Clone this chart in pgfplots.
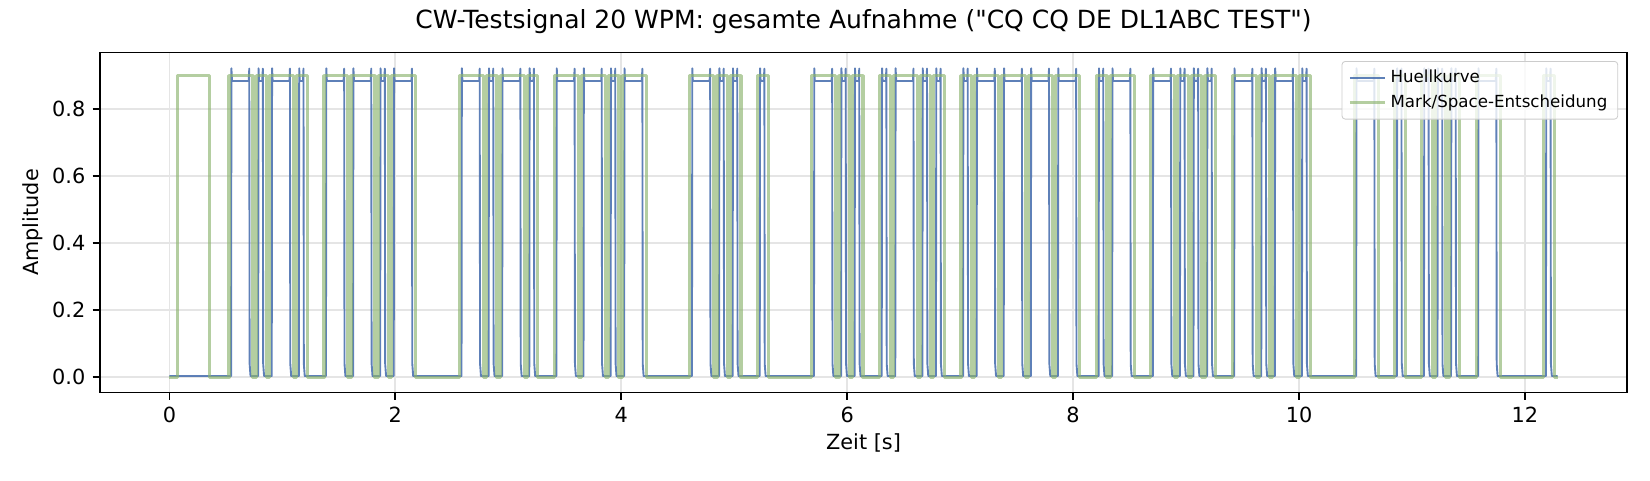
\documentclass[border=0pt]{standalone}
\usepackage{fontspec}
\setmainfont{DejaVu Sans}[Ligatures=TeXOff]
\usepackage{pgfplots}
\usepackage{pgfplotstable}
\pgfplotsset{compat=1.18}

\definecolor{envblue}{HTML}{4C72B0}
\definecolor{decgreen}{RGB}{140,180,110}

\begin{document}

% Huellkurve: per Morse-Element Anstieg, Spitze, Plateau, Spitze, Abfall
\pgfplotstableread[row sep=\\]{
x y\\
0 0.003\\
0.546 0.003\\ 0.549 0.922\\ 0.554 0.884\\ 0.702 0.884\\ 0.707 0.921\\ 0.710 0.04\\ 0.718 0.003\\
0.786 0.003\\ 0.789 0.922\\ 0.794 0.884\\ 0.822 0.884\\ 0.827 0.921\\ 0.830 0.04\\ 0.838 0.003\\
0.906 0.003\\ 0.909 0.922\\ 0.914 0.884\\ 1.062 0.884\\ 1.067 0.921\\ 1.070 0.04\\ 1.078 0.003\\
1.146 0.003\\ 1.149 0.922\\ 1.154 0.884\\ 1.182 0.884\\ 1.187 0.921\\ 1.190 0.04\\ 1.198 0.003\\
1.386 0.003\\ 1.389 0.922\\ 1.394 0.884\\ 1.542 0.884\\ 1.547 0.921\\ 1.550 0.04\\ 1.558 0.003\\
1.626 0.003\\ 1.629 0.922\\ 1.634 0.884\\ 1.782 0.884\\ 1.787 0.921\\ 1.790 0.04\\ 1.798 0.003\\
1.866 0.003\\ 1.869 0.922\\ 1.874 0.884\\ 1.902 0.884\\ 1.907 0.921\\ 1.910 0.04\\ 1.918 0.003\\
1.986 0.003\\ 1.989 0.922\\ 1.994 0.884\\ 2.142 0.884\\ 2.147 0.921\\ 2.150 0.04\\ 2.158 0.003\\
2.586 0.003\\ 2.589 0.922\\ 2.594 0.884\\ 2.742 0.884\\ 2.747 0.921\\ 2.750 0.04\\ 2.758 0.003\\
2.826 0.003\\ 2.829 0.922\\ 2.834 0.884\\ 2.862 0.884\\ 2.867 0.921\\ 2.870 0.04\\ 2.878 0.003\\
2.946 0.003\\ 2.949 0.922\\ 2.954 0.884\\ 3.102 0.884\\ 3.107 0.921\\ 3.110 0.04\\ 3.118 0.003\\
3.186 0.003\\ 3.189 0.922\\ 3.194 0.884\\ 3.222 0.884\\ 3.227 0.921\\ 3.230 0.04\\ 3.238 0.003\\
3.426 0.003\\ 3.429 0.922\\ 3.434 0.884\\ 3.582 0.884\\ 3.587 0.921\\ 3.590 0.04\\ 3.598 0.003\\
3.666 0.003\\ 3.669 0.922\\ 3.674 0.884\\ 3.822 0.884\\ 3.827 0.921\\ 3.830 0.04\\ 3.838 0.003\\
3.906 0.003\\ 3.909 0.922\\ 3.914 0.884\\ 3.942 0.884\\ 3.947 0.921\\ 3.950 0.04\\ 3.958 0.003\\
4.026 0.003\\ 4.029 0.922\\ 4.034 0.884\\ 4.182 0.884\\ 4.187 0.921\\ 4.190 0.04\\ 4.198 0.003\\
4.626 0.003\\ 4.629 0.922\\ 4.634 0.884\\ 4.782 0.884\\ 4.787 0.921\\ 4.790 0.04\\ 4.798 0.003\\
4.866 0.003\\ 4.869 0.922\\ 4.874 0.884\\ 4.902 0.884\\ 4.907 0.921\\ 4.910 0.04\\ 4.918 0.003\\
4.986 0.003\\ 4.989 0.922\\ 4.994 0.884\\ 5.022 0.884\\ 5.027 0.921\\ 5.030 0.04\\ 5.038 0.003\\
5.226 0.003\\ 5.229 0.922\\ 5.234 0.884\\ 5.262 0.884\\ 5.267 0.921\\ 5.270 0.04\\ 5.278 0.003\\
5.706 0.003\\ 5.709 0.922\\ 5.714 0.884\\ 5.862 0.884\\ 5.867 0.921\\ 5.870 0.04\\ 5.878 0.003\\
5.946 0.003\\ 5.949 0.922\\ 5.954 0.884\\ 5.982 0.884\\ 5.987 0.921\\ 5.990 0.04\\ 5.998 0.003\\
6.066 0.003\\ 6.069 0.922\\ 6.074 0.884\\ 6.102 0.884\\ 6.107 0.921\\ 6.110 0.04\\ 6.118 0.003\\
6.306 0.003\\ 6.309 0.922\\ 6.314 0.884\\ 6.342 0.884\\ 6.347 0.921\\ 6.350 0.04\\ 6.358 0.003\\
6.426 0.003\\ 6.429 0.922\\ 6.434 0.884\\ 6.582 0.884\\ 6.587 0.921\\ 6.590 0.04\\ 6.598 0.003\\
6.666 0.003\\ 6.669 0.922\\ 6.674 0.884\\ 6.702 0.884\\ 6.707 0.921\\ 6.710 0.04\\ 6.718 0.003\\
6.786 0.003\\ 6.789 0.922\\ 6.794 0.884\\ 6.822 0.884\\ 6.827 0.921\\ 6.830 0.04\\ 6.838 0.003\\
7.026 0.003\\ 7.029 0.922\\ 7.034 0.884\\ 7.062 0.884\\ 7.067 0.921\\ 7.070 0.04\\ 7.078 0.003\\
7.146 0.003\\ 7.149 0.922\\ 7.154 0.884\\ 7.302 0.884\\ 7.307 0.921\\ 7.310 0.04\\ 7.318 0.003\\
7.386 0.003\\ 7.389 0.922\\ 7.394 0.884\\ 7.542 0.884\\ 7.547 0.921\\ 7.550 0.04\\ 7.558 0.003\\
7.626 0.003\\ 7.629 0.922\\ 7.634 0.884\\ 7.782 0.884\\ 7.787 0.921\\ 7.790 0.04\\ 7.798 0.003\\
7.866 0.003\\ 7.869 0.922\\ 7.874 0.884\\ 8.022 0.884\\ 8.027 0.921\\ 8.030 0.04\\ 8.038 0.003\\
8.226 0.003\\ 8.229 0.922\\ 8.234 0.884\\ 8.262 0.884\\ 8.267 0.921\\ 8.270 0.04\\ 8.278 0.003\\
8.346 0.003\\ 8.349 0.922\\ 8.354 0.884\\ 8.502 0.884\\ 8.507 0.921\\ 8.510 0.04\\ 8.518 0.003\\
8.706 0.003\\ 8.709 0.922\\ 8.714 0.884\\ 8.862 0.884\\ 8.867 0.921\\ 8.870 0.04\\ 8.878 0.003\\
8.946 0.003\\ 8.949 0.922\\ 8.954 0.884\\ 8.982 0.884\\ 8.987 0.921\\ 8.990 0.04\\ 8.998 0.003\\
9.066 0.003\\ 9.069 0.922\\ 9.074 0.884\\ 9.102 0.884\\ 9.107 0.921\\ 9.110 0.04\\ 9.118 0.003\\
9.186 0.003\\ 9.189 0.922\\ 9.194 0.884\\ 9.222 0.884\\ 9.227 0.921\\ 9.230 0.04\\ 9.238 0.003\\
9.426 0.003\\ 9.429 0.922\\ 9.434 0.884\\ 9.582 0.884\\ 9.587 0.921\\ 9.590 0.04\\ 9.598 0.003\\
9.666 0.003\\ 9.669 0.922\\ 9.674 0.884\\ 9.702 0.884\\ 9.707 0.921\\ 9.710 0.04\\ 9.718 0.003\\
9.786 0.003\\ 9.789 0.922\\ 9.794 0.884\\ 9.942 0.884\\ 9.947 0.921\\ 9.950 0.04\\ 9.958 0.003\\
10.026 0.003\\ 10.029 0.922\\ 10.034 0.884\\ 10.062 0.884\\ 10.067 0.921\\ 10.070 0.04\\ 10.078 0.003\\
10.506 0.003\\ 10.509 0.922\\ 10.514 0.884\\ 10.662 0.884\\ 10.667 0.921\\ 10.670 0.04\\ 10.678 0.003\\
10.866 0.003\\ 10.869 0.922\\ 10.874 0.884\\ 10.902 0.884\\ 10.907 0.921\\ 10.910 0.04\\ 10.918 0.003\\
11.106 0.003\\ 11.109 0.922\\ 11.114 0.884\\ 11.142 0.884\\ 11.147 0.921\\ 11.150 0.04\\ 11.158 0.003\\
11.226 0.003\\ 11.229 0.922\\ 11.234 0.884\\ 11.262 0.884\\ 11.267 0.921\\ 11.270 0.04\\ 11.278 0.003\\
11.346 0.003\\ 11.349 0.922\\ 11.354 0.884\\ 11.382 0.884\\ 11.387 0.921\\ 11.390 0.04\\ 11.398 0.003\\
11.586 0.003\\ 11.589 0.922\\ 11.594 0.884\\ 11.742 0.884\\ 11.747 0.921\\ 11.750 0.04\\ 11.758 0.003\\
12.186 0.003\\ 12.189 0.922\\ 12.194 0.884\\ 12.222 0.884\\ 12.227 0.921\\ 12.230 0.04\\ 12.238 0.003\\
12.29 0.003\\
}\envtable

% Mark/Space-Entscheidung: Umschaltzeitpunkte (Wert gilt bis zum naechsten Punkt)
\pgfplotstableread[row sep=\\]{
x y\\
0 0\\ 0.070 0.9\\ 0.355 0\\
0.528 0.9\\ 0.740 0\\
0.768 0.9\\ 0.860 0\\
0.888 0.9\\ 1.100 0\\
1.128 0.9\\ 1.220 0\\
1.368 0.9\\ 1.580 0\\
1.608 0.9\\ 1.820 0\\
1.848 0.9\\ 1.940 0\\
1.968 0.9\\ 2.180 0\\
2.568 0.9\\ 2.780 0\\
2.808 0.9\\ 2.900 0\\
2.928 0.9\\ 3.140 0\\
3.168 0.9\\ 3.260 0\\
3.408 0.9\\ 3.620 0\\
3.648 0.9\\ 3.860 0\\
3.888 0.9\\ 3.980 0\\
4.008 0.9\\ 4.220 0\\
4.608 0.9\\ 4.820 0\\
4.848 0.9\\ 4.940 0\\
4.968 0.9\\ 5.060 0\\
5.208 0.9\\ 5.300 0\\
5.688 0.9\\ 5.900 0\\
5.928 0.9\\ 6.020 0\\
6.048 0.9\\ 6.140 0\\
6.288 0.9\\ 6.380 0\\
6.408 0.9\\ 6.620 0\\
6.648 0.9\\ 6.740 0\\
6.768 0.9\\ 6.860 0\\
7.008 0.9\\ 7.100 0\\
7.128 0.9\\ 7.340 0\\
7.368 0.9\\ 7.580 0\\
7.608 0.9\\ 7.820 0\\
7.848 0.9\\ 8.060 0\\
8.208 0.9\\ 8.300 0\\
8.328 0.9\\ 8.540 0\\
8.688 0.9\\ 8.900 0\\
8.928 0.9\\ 9.020 0\\
9.048 0.9\\ 9.140 0\\
9.168 0.9\\ 9.260 0\\
9.408 0.9\\ 9.620 0\\
9.648 0.9\\ 9.740 0\\
9.768 0.9\\ 9.980 0\\
10.008 0.9\\ 10.100 0\\
10.488 0.9\\ 10.700 0\\
10.848 0.9\\ 10.940 0\\
11.088 0.9\\ 11.180 0\\
11.208 0.9\\ 11.300 0\\
11.328 0.9\\ 11.420 0\\
11.568 0.9\\ 11.780 0\\
12.168 0.9\\ 12.260 0\\
12.29 0\\
}\dectable

\begin{tikzpicture}
\useasboundingbox (0,0) rectangle (792pt,230.4pt);
\begin{axis}[
  at={(48pt,42pt)}, anchor=south west,
  scale only axis, width=733pt, height=163.2pt,
  xmin=-0.6145, xmax=12.9045, ymin=-0.0461, ymax=0.9691,
  xtick={0,2,4,6,8,10,12},
  ytick={0,0.2,0.4,0.6,0.8},
  xtick pos=lower, ytick pos=left,
  tick align=outside, major tick length=3.5pt,
  tick style={line width=0.8pt, black},
  axis line style={line width=0.8pt, black},
  grid=major, grid style={line width=0.8pt, black!10},
  /pgf/number format/assume math mode=true,
  tick label style={font=\fontsize{10}{12}\selectfont},
  yticklabel style={/pgf/number format/fixed, /pgf/number format/fixed zerofill, /pgf/number format/precision=1},
  xticklabel style={/pgf/number format/fixed},
  xlabel={Zeit [s]}, ylabel={Amplitude},
  every axis x label/.style={at={(axis description cs:0.5,-0.1483)}, anchor=center, font=\fontsize{10}{12}\selectfont},
  every axis y label/.style={at={(axis description cs:-0.0441,0.5)}, rotate=90, anchor=center, font=\fontsize{10}{12}\selectfont},
  title={CW-Testsignal 20 WPM: gesamte Aufnahme ("CQ CQ DE DL1ABC TEST")},
  title style={at={(axis description cs:0.5,1)}, anchor=base, yshift=5.6pt, font=\fontsize{12}{14.4}\selectfont},
  legend cell align=left,
  legend image code/.code={\draw[#1] (0pt,0pt) -- (16.8pt,0pt);},
  legend style={at={(1,1)}, anchor=north east, xshift=-4.3pt, yshift=-4.1pt,
    font=\fontsize{8}{9.6}\selectfont, draw=black!20, fill=white, fill opacity=0.8,
    text opacity=1, draw opacity=1, rounded corners=1.5pt,
    inner xsep=3pt, inner ysep=2pt, row sep=0.5pt,
    /tikz/every even column/.append style={column sep=0pt}},
]
\addplot[envblue, line width=0.9pt, opacity=0.9, line join=round] table {\envtable};
\addlegendentry{Huellkurve}
\addplot[decgreen, line width=1.5pt, opacity=0.65, line join=round, const plot mark left] table {\dectable};
\addlegendentry{Mark/Space-Entscheidung}
\end{axis}
\end{tikzpicture}
\end{document}
